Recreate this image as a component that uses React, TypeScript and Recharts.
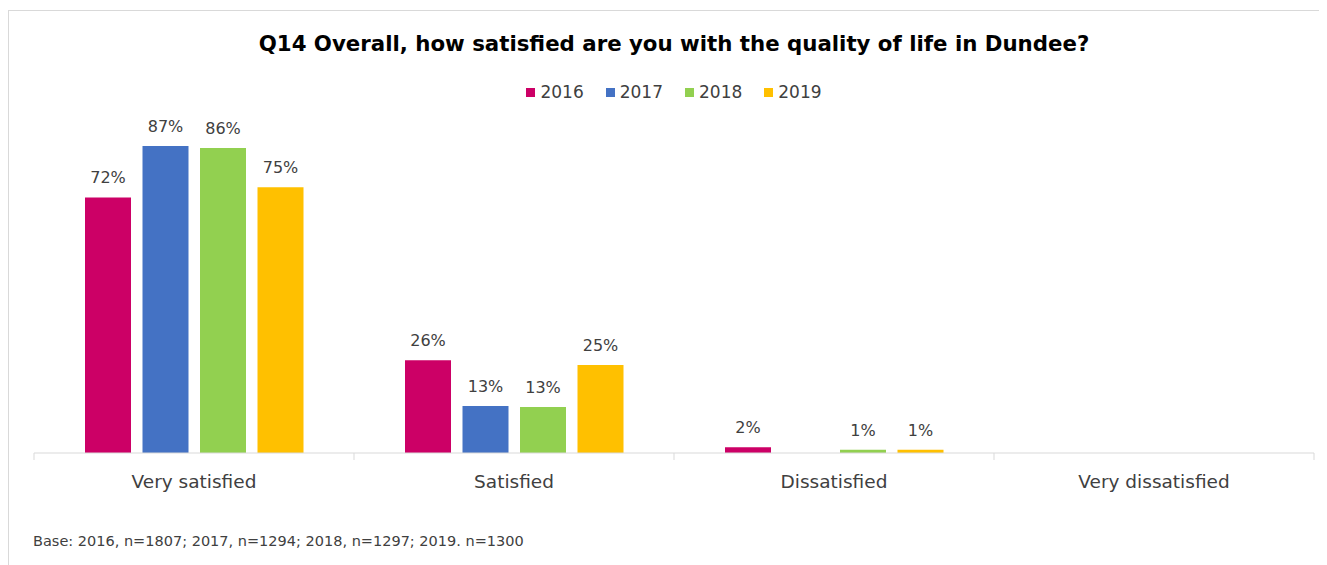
import { BarChart, Bar, XAxis, YAxis, Legend, LabelList } from 'recharts'

const categories = ['Very satisfied', 'Satisfied', 'Dissatisfied', 'Very dissatisfied']
const years = ['2016', '2017', '2018', '2019']
const s2016 = [72.4, 26.3, 1.6, 0]
const s2017 = [87.0, 13.3, 0, 0]
const s2018 = [86.4, 13.0, 0.9, 0]
const s2019 = [75.3, 24.9, 0.9, 0]
const colors = ['#CC0066', '#4472C4', '#92D050', '#FFC000']

const data = categories.map((name, i) => ({
  name,
  '2016': s2016[i],
  '2017': s2017[i],
  '2018': s2018[i],
  '2019': s2019[i],
}))

const FONT = '"DejaVu Sans", sans-serif'
const W = 1319
const H = 549
const MARGIN = { top: 92, right: 13, left: 26, bottom: 54 }
const BAND = (W - MARGIN.left - MARGIN.right) / categories.length

// excel-style ticks sit between the categories, not under them
function CatTick(props: any) {
  const { x, y, payload, index } = props
  const half = BAND / 2
  return (
    <g>
      <line x1={x - half} y1={y} x2={x - half} y2={y + 7} stroke="#d9d9d9" />
      {index === categories.length - 1 && (
        <line x1={x + half} y1={y} x2={x + half} y2={y + 7} stroke="#d9d9d9" />
      )}
      <text x={x} y={y + 28} textAnchor="middle" dominantBaseline="central" fill="#404040" fontSize={18.5} fontFamily={FONT}>
        {payload.value}
      </text>
    </g>
  )
}

function LegendRow() {
  return (
    <div style={{ display: 'flex', justifyContent: 'center', gap: 22, fontFamily: FONT, fontSize: 17, color: '#404040' }}>
      {years.map((y, i) => (
        <div key={y} style={{ display: 'flex', alignItems: 'center', gap: 5 }}>
          <span style={{ width: 9, height: 9, background: colors[i], display: 'inline-block' }} />
          <span>{y}</span>
        </div>
      ))}
    </div>
  )
}

export default function App() {
  return (
    <div style={{ position: 'relative', width: W, height: 557, background: '#fff' }}>
      <div
        style={{
          position: 'absolute',
          left: 0,
          top: 2,
          width: W,
          height: 555,
          borderTop: '1px solid #d9d9d9',
          borderLeft: '1px solid #d9d9d9',
          boxSizing: 'border-box',
        }}
      />
      <div
        style={{
          position: 'absolute',
          left: MARGIN.left,
          width: W - MARGIN.left - MARGIN.right,
          top: 23,
          textAlign: 'center',
          fontFamily: FONT,
          fontWeight: 'bold',
          fontSize: 21.3,
          color: '#000',
        }}
      >
        Q14 Overall, how satisfied are you with the quality of life in Dundee?
      </div>
      <div style={{ position: 'absolute', left: 0, top: 0 }}>
        <BarChart width={W} height={H} data={data} margin={MARGIN} barSize={46} barGap={11.5}>
          <XAxis
            dataKey="name"
            height={50}
            axisLine={{ stroke: '#d9d9d9' }}
            tickLine={false}
            tickSize={0}
            tickMargin={0}
            tick={<CatTick />}
            interval={0}
          />
          <YAxis hide domain={[0, 100]} />
          <Legend
            verticalAlign="middle"
            align="center"
            content={<LegendRow />}
            wrapperStyle={{ top: 74, left: MARGIN.left, width: W - MARGIN.left - MARGIN.right }}
          />
          {years.map((y, i) => (
            <Bar key={y} dataKey={y} fill={colors[i]} isAnimationActive={false}>
              <LabelList
                dataKey={y}
                position="top"
                offset={14}
                fill="#404040"
                fontSize={16}
                fontFamily={FONT}
                formatter={(v: any) => (Number(v) > 0 ? `${Math.round(Number(v))}%` : '')}
              />
            </Bar>
          ))}
        </BarChart>
      </div>
      <div
        style={{
          position: 'absolute',
          left: 25,
          top: 525,
          fontFamily: FONT,
          fontSize: 14.5,
          color: '#404040',
        }}
      >
        Base: 2016, n=1807; 2017, n=1294; 2018, n=1297; 2019. n=1300
      </div>
    </div>
  )
}
